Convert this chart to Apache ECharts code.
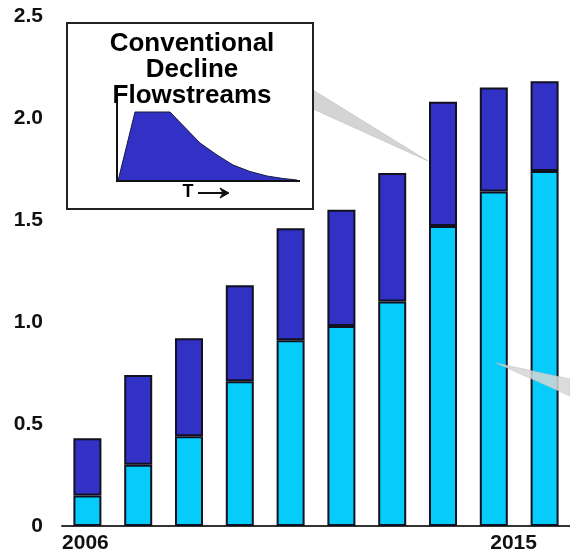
<!DOCTYPE html>
<html>
<head>
<meta charset="utf-8">
<title>Conventional Decline Flowstreams</title>
<script src="https://cdn.jsdelivr.net/npm/echarts@6/dist/echarts.min.js"></script>
<style>
  html, body { margin: 0; padding: 0; background: #ffffff; }
  #chart { width: 570px; height: 554px; }
</style>
</head>
<body>
<div id="chart"></div>
<script>
// Years on the category axis
const years = ['2006', '2007', '2008', '2009', '2010', '2011', '2012', '2013', '2014', '2015'];
// Lower (light blue) segment of each stacked bar
const baseFlow = [0.15, 0.30, 0.44, 0.71, 0.91, 0.98, 1.10, 1.47, 1.64, 1.74];
// Upper (dark blue) segment stacked on top
const addedFlow = [0.28, 0.44, 0.48, 0.47, 0.55, 0.57, 0.63, 0.61, 0.51, 0.44];
// Value axis ticks
const yTicks = { min: 0, max: 2.5, interval: 0.5 };
// Only the first and last year carry a label
const shownYears = ['2006', '2015'];

const FONT = '"Liberation Sans", Arial, sans-serif';
const DARK = '#3131C6';
const LIGHT = '#05CCFA';
const EDGE = '#111122';

const chart = echarts.init(document.getElementById('chart'), null, { renderer: 'canvas' });

// Small decline-curve sketch inside the inset box
const curveShape = [
  [118, 181], [135, 112], [170, 112], [200, 143], [217, 155], [233, 165],
  [250, 171.5], [267, 176], [283, 178.5], [297, 180], [297, 181]
];

chart.setOption({
  animation: false,
  backgroundColor: '#ffffff',
  grid: { left: 62, right: 0, top: 16, bottom: 27, containLabel: false },
  xAxis: {
    type: 'category',
    data: years,
    axisLine: { show: true, lineStyle: { color: '#333333', width: 2 } },
    axisTick: { show: false },
    splitLine: { show: false },
    axisLabel: {
      interval: 0,
      margin: 7,
      color: '#111111',
      fontFamily: FONT,
      fontWeight: 'bold',
      fontSize: 21,
      formatter: function (v, i) {
        if (shownYears.indexOf(v) < 0) return '';
        return i === years.length - 1 ? '{last|' + v + '}' : '{first|' + v + '}';
      },
      rich: {
        first: {
          fontFamily: FONT, fontWeight: 'bold', fontSize: 21, color: '#111111',
          padding: [0, 4, 0, 0]
        },
        last: {
          fontFamily: FONT, fontWeight: 'bold', fontSize: 21, color: '#111111',
          padding: [0, 62, 0, 0]
        }
      }
    }
  },
  yAxis: {
    type: 'value',
    min: yTicks.min,
    max: yTicks.max,
    interval: yTicks.interval,
    axisLine: { show: false },
    axisTick: { show: false },
    splitLine: { show: false },
    axisLabel: {
      margin: 19,
      color: '#111111',
      fontFamily: FONT,
      fontWeight: 'bold',
      fontSize: 21,
      formatter: function (v) { return v === 0 ? '0' : v.toFixed(1); }
    }
  },
  series: [
    {
      name: 'base',
      type: 'bar',
      stack: 'flow',
      data: baseFlow,
      barWidth: 28,
      itemStyle: { color: LIGHT, borderColor: EDGE, borderWidth: 2 }
    },
    {
      name: 'added',
      type: 'bar',
      stack: 'flow',
      data: addedFlow,
      barWidth: 28,
      itemStyle: { color: DARK, borderColor: EDGE, borderWidth: 2 }
    }
  ],
  graphic: [
    // Callout wedge from the inset towards the 2013 bar
    {
      type: 'polygon', z: 1,
      shape: { points: [[313, 90], [313, 109], [428, 161]] },
      style: { fill: '#d4d4d4', stroke: '#c0c0c0', lineWidth: 0.6 }
    },
    // Second callout wedge entering from the right edge
    {
      type: 'polygon', z: 50,
      shape: { points: [[496, 363], [570, 379], [570, 396]] },
      style: { fill: 'rgba(214,214,214,0.85)', stroke: 'rgba(190,190,190,0.8)', lineWidth: 0.6 }
    },
    // Inset box
    {
      type: 'rect', z: 5,
      shape: { x: 67, y: 23, width: 246, height: 186 },
      style: { fill: '#ffffff', stroke: '#222222', lineWidth: 2 }
    },
    {
      type: 'text', z: 6,
      style: {
        x: 192, y: 44, text: 'Conventional', align: 'center', verticalAlign: 'middle',
        font: 'bold 26px ' + FONT, fill: '#000000'
      }
    },
    {
      type: 'text', z: 6,
      style: {
        x: 192, y: 70, text: 'Decline', align: 'center', verticalAlign: 'middle',
        font: 'bold 26px ' + FONT, fill: '#000000'
      }
    },
    {
      type: 'text', z: 6,
      style: {
        x: 192, y: 96, text: 'Flowstreams', align: 'center', verticalAlign: 'middle',
        font: 'bold 26px ' + FONT, fill: '#000000'
      }
    },
    {
      type: 'polygon', z: 6,
      shape: { points: curveShape },
      style: { fill: DARK, stroke: '#1a1a40', lineWidth: 1 }
    },
    {
      type: 'polyline', z: 7,
      shape: { points: [[117, 103], [117, 181], [300, 181]] },
      style: { stroke: '#111111', lineWidth: 2, fill: null }
    },
    {
      type: 'text', z: 7,
      style: {
        x: 188, y: 192, text: 'T', align: 'center', verticalAlign: 'middle',
        font: 'bold 18px ' + FONT, fill: '#000000'
      }
    },
    {
      type: 'polyline', z: 7,
      shape: { points: [[198, 193], [227, 193]] },
      style: { stroke: '#111111', lineWidth: 2, fill: null }
    },
    {
      type: 'polygon', z: 7,
      shape: { points: [[220, 188], [229, 193], [220, 198], [223, 193]] },
      style: { fill: '#111111', stroke: '#111111', lineWidth: 1 }
    }
  ]
});
</script>
</body>
</html>
